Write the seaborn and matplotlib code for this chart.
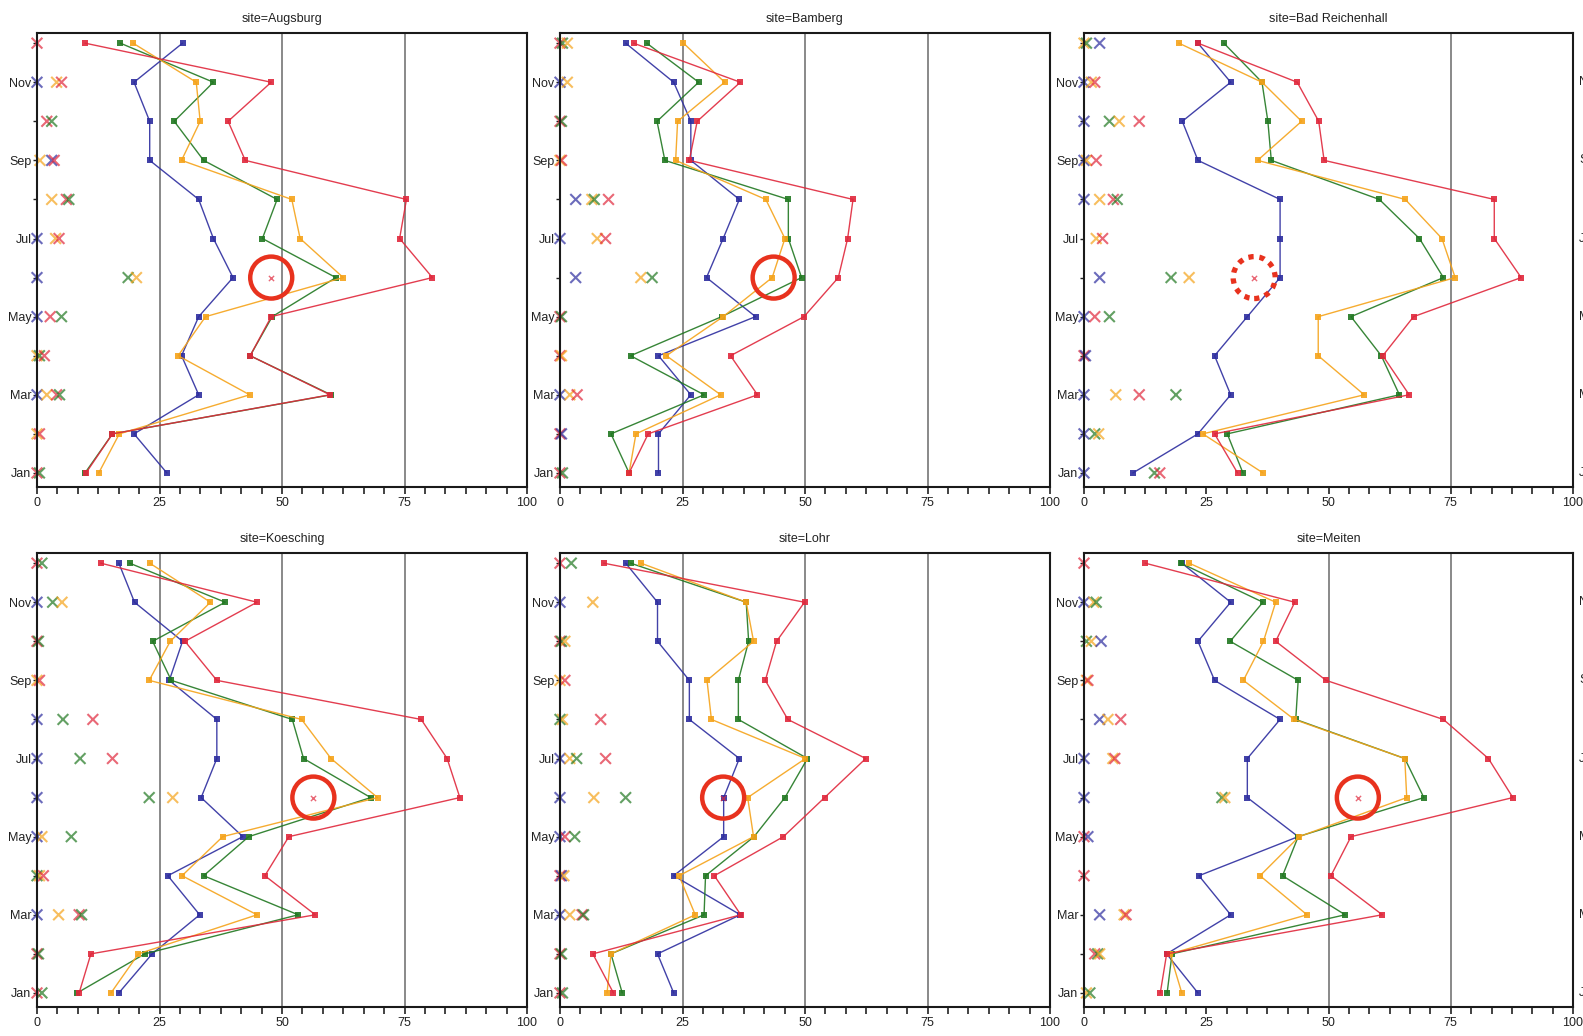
import matplotlib
matplotlib.use("Agg")
import matplotlib.pyplot as plt
from matplotlib.patches import Ellipse
from matplotlib.transforms import blended_transform_factory
from matplotlib.ticker import MultipleLocator
import pandas as pd
import seaborn as sns

# ---------------- data ----------------
months = ["Jan", "Feb", "Mar", "Apr", "May", "Jun", "Jul", "Aug", "Sep", "Oct", "Nov", "Dec"]
month_labels = ["Jan", "", "Mar", "", "May", "", "Jul", "", "Sep", "", "Nov", ""]
sites = ["Augsburg", "Bamberg", "Bad Reichenhall", "Koesching", "Lohr", "Meiten"]
series = ["s1", "s2", "s3", "s4"]
series_colors = ["#2d2d9f", "#217821", "#f5a31a", "#e0283c"]
x_ticks = [0, 25, 50, 75, 100]

# monthly values, Jan..Dec
augsburg_s1 = [26.5, 19.8, 33, 29.5, 33, 40, 36, 33, 23, 23, 19.8, 29.7]
augsburg_s2 = [9.8, 15.4, 60, 43.5, 48, 61, 46, 49, 34, 28, 36, 17]
augsburg_s3 = [12.6, 16.8, 43.4, 28.8, 34.4, 62.5, 53.7, 52, 29.5, 33.3, 32.5, 19.6]
augsburg_s4 = [10, 15.4, 59.8, 43.5, 47.8, 80.7, 74, 75.4, 42.5, 39, 47.8, 9.8]

bamberg_s1 = [20.1, 20.1, 26.7, 20.1, 39.9, 29.9, 33.3, 36.6, 26.7, 26.7, 23.2, 13.4]
bamberg_s2 = [14.1, 10.4, 29.4, 14.4, 33, 49.3, 46.6, 46.6, 21.4, 19.8, 28.3, 17.7]
bamberg_s3 = [14.1, 15.5, 32.8, 21.7, 33.3, 43.3, 45.9, 42, 23.6, 24, 33.6, 25.2]
bamberg_s4 = [14.1, 18, 40.3, 34.8, 49.8, 56.8, 58.7, 59.8, 26.4, 28, 36.8, 15]

reichenhall_s1 = [10, 23.3, 30, 26.7, 33.4, 40.1, 40.1, 40.1, 23.3, 20.1, 30, 23.3]
reichenhall_s2 = [32.5, 29.3, 64.5, 60.8, 54.6, 73.5, 68.6, 60.4, 38.3, 37.6, 36.4, 28.6]
reichenhall_s3 = [36.6, 24.3, 57.3, 47.9, 47.9, 75.9, 73.2, 65.7, 35.5, 44.5, 36.4, 19.4]
reichenhall_s4 = [31.4, 26.7, 66.5, 61.1, 67.4, 89.4, 83.9, 83.9, 49.1, 48, 43.6, 23.3]

koesching_s1 = [16.7, 23.5, 33.2, 26.7, 42, 33.5, 36.7, 36.7, 27, 29.7, 19.9, 16.7]
koesching_s2 = [8.2, 22, 53.3, 34, 43.2, 68.1, 54.4, 52.1, 27.4, 23.6, 38.4, 18.9]
koesching_s3 = [15.1, 20.7, 44.9, 29.6, 37.9, 69.5, 60, 54, 22.9, 27.2, 35.4, 23]
koesching_s4 = [8.6, 11, 56.8, 46.5, 51.4, 86.3, 83.7, 78.4, 36.7, 30.2, 44.9, 13]

lohr_s1 = [23.2, 19.9, 36.8, 23.2, 33.4, 33.4, 36.6, 26.4, 26.4, 19.9, 19.9, 13.4]
lohr_s2 = [12.7, 10.4, 29.4, 29.7, 39.6, 45.9, 50.5, 36.4, 36.4, 38.5, 38, 14.4]
lohr_s3 = [9.6, 10.4, 27.6, 24.3, 39.5, 38.3, 50.1, 30.9, 30, 39.5, 38, 16.5]
lohr_s4 = [10.9, 6.7, 36.9, 31.5, 45.6, 54, 62.4, 46.5, 41.9, 44.2, 49.9, 8.9]

meiten_s1 = [23.3, 16.9, 30, 23.5, 43.8, 33.4, 33.4, 40.1, 26.7, 23.3, 30, 20]
meiten_s2 = [17, 18, 53.4, 40.6, 43.8, 69.5, 65.6, 43.3, 43.8, 29.9, 36.6, 19.8]
meiten_s3 = [20, 17.6, 45.6, 36, 44, 66, 65.6, 43, 32.6, 36.7, 39.2, 21.5]
meiten_s4 = [15.6, 16.9, 61, 50.5, 54.6, 87.7, 82.7, 73.5, 49.5, 39.2, 43.1, 12.5]

# secondary "x" marks: (month index, series, value)
augsburg_marks = [(11, "s4", 0), (10, "s1", 0), (10, "s3", 4), (10, "s4", 5), (9, "s4", 2), (9, "s2", 3),
                  (8, "s3", 0.6), (8, "s1", 3), (8, "s4", 3.5), (7, "s3", 3), (7, "s4", 6), (7, "s2", 6.5),
                  (6, "s1", 0), (6, "s3", 3.8), (6, "s4", 4.5), (5, "s1", 0), (5, "s2", 18.6), (5, "s3", 20.3),
                  (4, "s1", 0), (4, "s4", 2.7), (4, "s2", 5), (3, "s3", 0), (3, "s2", 0.5), (3, "s4", 1.5),
                  (2, "s1", 0), (2, "s3", 2), (2, "s4", 4), (2, "s2", 4.6), (1, "s3", 0), (1, "s4", 0.5),
                  (0, "s4", 0), (0, "s2", 0.5)]
bamberg_marks = [(11, "s4", 0), (11, "s2", 0.5), (11, "s3", 1.5), (10, "s1", 0), (10, "s3", 1.5),
                 (9, "s4", 0), (9, "s2", 0.3), (8, "s3", 0), (8, "s4", 0.3), (7, "s1", 3.2), (7, "s3", 6.5),
                 (7, "s2", 7), (7, "s4", 9.9), (6, "s1", 0), (6, "s3", 7.6), (6, "s4", 9.3), (5, "s1", 3.2),
                 (5, "s3", 16.5), (5, "s2", 18.8), (4, "s4", 0), (4, "s2", 0.3), (3, "s4", 0), (3, "s3", 0.3),
                 (2, "s1", 0), (2, "s3", 2), (2, "s4", 3.5), (1, "s4", 0), (1, "s1", 0.3), (0, "s4", 0),
                 (0, "s2", 0.5)]
reichenhall_marks = [(11, "s3", 0), (11, "s2", 0.5), (11, "s1", 3.2), (10, "s1", 0), (10, "s3", 1.5),
                     (10, "s4", 2.2), (9, "s1", 0), (9, "s2", 5.2), (9, "s3", 7.2), (9, "s4", 11.3),
                     (8, "s1", 0), (8, "s3", 0.5), (8, "s4", 2.5), (7, "s1", 0), (7, "s3", 3.2), (7, "s4", 6),
                     (7, "s2", 6.8), (6, "s3", 2.5), (6, "s4", 3.8), (5, "s1", 3.2), (5, "s2", 17.8),
                     (5, "s3", 21.5), (4, "s1", 0), (4, "s4", 2.2), (4, "s2", 5.2), (3, "s4", 0), (3, "s1", 0.3),
                     (2, "s1", 0), (2, "s3", 6.5), (2, "s4", 11.3), (2, "s2", 18.8), (1, "s1", 0),
                     (1, "s2", 2.2), (1, "s3", 3), (0, "s1", 0), (0, "s2", 14.4), (0, "s4", 15.5)]
koesching_marks = [(11, "s4", 0), (11, "s2", 1), (10, "s1", 0), (10, "s2", 3.2), (10, "s3", 5.1),
                   (9, "s4", 0), (9, "s2", 0.3), (8, "s3", 0), (8, "s4", 0.5), (7, "s1", 0), (7, "s2", 5.3),
                   (7, "s4", 11.4), (6, "s1", 0), (6, "s2", 8.8), (6, "s4", 15.4), (5, "s1", 0),
                   (5, "s2", 22.9), (5, "s3", 27.7), (4, "s1", 0), (4, "s3", 1), (4, "s2", 7), (3, "s2", 0),
                   (3, "s3", 0.5), (3, "s4", 1.3), (2, "s1", 0), (2, "s3", 4.4), (2, "s4", 8.6), (2, "s2", 9.1),
                   (1, "s4", 0), (1, "s2", 0.3), (0, "s4", 0), (0, "s2", 1)]
lohr_marks = [(11, "s4", 0), (11, "s2", 2.3), (10, "s1", 0), (10, "s3", 6.7), (9, "s4", 0), (9, "s2", 0.3),
              (9, "s3", 1), (8, "s3", 0), (8, "s4", 1), (7, "s2", 0), (7, "s3", 0.5), (7, "s4", 8.3),
              (6, "s1", 0), (6, "s3", 2), (6, "s2", 3.4), (6, "s4", 9.3), (5, "s1", 0), (5, "s3", 6.9),
              (5, "s2", 13.4), (4, "s1", 0), (4, "s4", 1), (4, "s2", 3), (3, "s4", 0), (3, "s1", 0.3),
              (3, "s3", 0.8), (2, "s1", 0), (2, "s3", 2), (2, "s4", 4.5), (2, "s2", 4.8), (1, "s4", 0),
              (1, "s2", 0.3), (0, "s4", 0), (0, "s2", 0.5)]
meiten_marks = [(11, "s4", 0), (10, "s1", 0), (10, "s3", 2), (10, "s2", 2.5), (9, "s2", 0.5), (9, "s3", 1.5),
                (9, "s1", 3.5), (8, "s3", 0.5), (8, "s4", 0.8), (7, "s1", 3.2), (7, "s3", 4.9), (7, "s4", 7.5),
                (6, "s1", 0), (6, "s3", 5.9), (6, "s4", 6.3), (5, "s1", 0), (5, "s2", 28.2), (5, "s3", 28.8),
                (4, "s4", 0), (4, "s1", 0.8), (3, "s4", 0), (2, "s1", 3.2), (2, "s3", 8.2), (2, "s4", 8.6),
                (1, "s4", 2.2), (1, "s2", 2.8), (1, "s3", 3.2), (0, "s3", 0.5), (0, "s2", 1.2)]

# highlighted June points (one per site)
highlight_values = [47.8, 43.6, 34.8, 56.4, 33.3, 56.0]
highlight_dotted = [False, False, True, False, False, False]
highlight_small_x = [True, False, True, True, True, True]

# vertical reference lines visible per panel
panel_vlines = [[25, 50, 75], [25, 50, 75], [75], [25, 50, 75], [25, 50, 75], [50, 75]]

# ---------------- assemble ----------------
site_lines = {
    "Augsburg": [augsburg_s1, augsburg_s2, augsburg_s3, augsburg_s4],
    "Bamberg": [bamberg_s1, bamberg_s2, bamberg_s3, bamberg_s4],
    "Bad Reichenhall": [reichenhall_s1, reichenhall_s2, reichenhall_s3, reichenhall_s4],
    "Koesching": [koesching_s1, koesching_s2, koesching_s3, koesching_s4],
    "Lohr": [lohr_s1, lohr_s2, lohr_s3, lohr_s4],
    "Meiten": [meiten_s1, meiten_s2, meiten_s3, meiten_s4],
}
site_marks = {
    "Augsburg": augsburg_marks, "Bamberg": bamberg_marks, "Bad Reichenhall": reichenhall_marks,
    "Koesching": koesching_marks, "Lohr": lohr_marks, "Meiten": meiten_marks,
}
palette = dict(zip(series, series_colors))

rows = []
for site in sites:
    for s, vals in zip(series, site_lines[site]):
        for m, v in enumerate(vals):
            rows.append({"site": site, "series": s, "month_idx": m, "value": v})
lines_df = pd.DataFrame(rows)

mrows = []
for site in sites:
    for m, s, v in site_marks[site]:
        mrows.append({"site": site, "series": s, "month_idx": m, "value": v})
marks_df = pd.DataFrame(mrows)

# ---------------- plot ----------------
sns.set_style("white")
plt.rcParams["font.family"] = ["Liberation Sans", "DejaVu Sans"]

W, H = 1583, 1036
fig = plt.figure(figsize=(W / 100, H / 100), dpi=100)

col_px = [(37, 527), (560, 1050), (1084, 1573)]
row_px = [(33, 487), (553, 1007)]
axes = []
for r in range(2):
    for c in range(3):
        x0, x1 = col_px[c]
        y0, y1 = row_px[r]
        ax = fig.add_axes([x0 / W, 1 - y1 / H, (x1 - x0) / W, (y1 - y0) / H])
        axes.append(ax)

red_ann = "#e8321e"
for i, (ax, site) in enumerate(zip(axes, sites)):
    for xv in panel_vlines[i]:
        ax.axvline(xv, color="#808080", lw=1.3, zorder=0.5)

    d = lines_df[lines_df.site == site]
    sns.lineplot(data=d, x="value", y="month_idx", hue="series", hue_order=series,
                 palette=palette, orient="y", sort=False, estimator=None,
                 marker="s", markersize=4.5, markeredgewidth=0, linewidth=1.0,
                 alpha=0.9, ax=ax, legend=False, zorder=3)

    mk = marks_df[marks_df.site == site]
    sns.scatterplot(data=mk, x="value", y="month_idx", hue="series", hue_order=series,
                    palette=palette, marker="x", s=60, linewidth=1.5, alpha=0.7,
                    ax=ax, legend=False, zorder=2, clip_on=False)

    hv = highlight_values[i]
    if highlight_small_x[i]:
        ax.scatter([hv], [5], marker="x", s=14, color=series_colors[3], alpha=0.7,
                   linewidths=1.0, zorder=4)
    x0, x1 = col_px[i % 3]
    px_per_unit = (x1 - x0) / 100.0
    ell = Ellipse((hv, 5), width=2 * 21 / px_per_unit, height=2 * 21 / 39.1, fill=False,
                  edgecolor=red_ann, lw=3.2 if not highlight_dotted[i] else 3.8, zorder=6,
                  linestyle=(0, (1.0, 1.1)) if highlight_dotted[i] else "-")
    ax.add_patch(ell)

    ax.set_xlim(0, 100)
    ax.set_ylim(-0.36, 11.26)
    ax.set_xticks(x_ticks)
    ax.set_xticklabels([str(t) for t in x_ticks])
    ax.xaxis.set_minor_locator(MultipleLocator(25 / 6))
    ax.set_yticks(range(12))
    ax.set_yticklabels(month_labels)
    ax.set_xlabel("")
    ax.set_ylabel("")
    ax.tick_params(axis="x", which="both", direction="out", length=5, width=1.2,
                   labelsize=9, pad=2, bottom=True, colors="#222222")
    ax.tick_params(axis="y", which="major", direction="out", length=3, width=1.0,
                   labelsize=9, pad=1, left=True, colors="#222222")
    for sp in ax.spines.values():
        sp.set_visible(True)
        sp.set_color("#1a1a1a")
        sp.set_linewidth(1.5)
    ax.set_title(f"site={site}", fontsize=9, pad=8, color="#222222")

# slivers of the next (cut-off) column's month labels at the right edge
for r in range(2):
    ax_ref = axes[r * 3 + 2]
    tr = blended_transform_factory(fig.transFigure, ax_ref.transData)
    for m, lab in enumerate(month_labels):
        if lab:
            fig.text(1579 / W, m, lab, transform=tr, ha="left", va="center",
                     fontsize=9, color="#222222")

fig.savefig("out.png", dpi=100)
